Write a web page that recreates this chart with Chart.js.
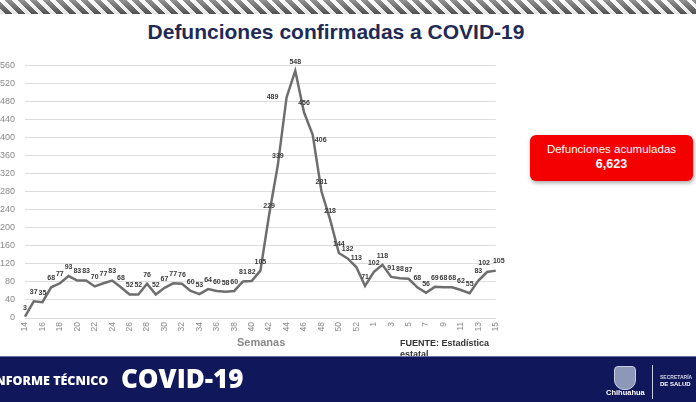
<!DOCTYPE html>
<html>
<head>
<meta charset="utf-8">
<script src="https://cdn.jsdelivr.net/npm/chart.js@4.4.0/dist/chart.umd.min.js"></script>
<style>
    body { margin: 0; width: 696px; height: 402px; overflow: hidden; background: #fff; position: relative; font-family: "Liberation Sans", Arial, sans-serif; }
    .stripes { position: absolute; left: 0; top: 0; width: 696px; height: 14px;
        background: repeating-linear-gradient(45deg, #fff 0px, #fff 4px, #5a5a5a 4px, #5a5a5a 9px); }
    .stripes:after { content: ""; position: absolute; left: 0; top: 0; right: 0; bottom: 0;
        background: linear-gradient(to bottom, rgba(255,255,255,0.35), rgba(0,0,0,0.1)); }
    .title { position: absolute; left: 0; width: 672px; top: 20px; text-align: center; font-size: 21px; font-weight: bold; color: #1f2a55; }
    .chart-box { position: absolute; left: -10px; top: 50px; width: 520px; height: 298px; }
    .total { position: absolute; left: 530px; top: 135px; width: 163px; height: 46px; background: #f50000; border-radius: 6px;
        box-shadow: 1px 2px 4px rgba(0,0,0,0.35); color: #fff; text-align: center; }
    .total .t1 { font-size: 11.5px; margin-top: 8px; }
    .total .t2 { font-size: 12.5px; font-weight: bold; margin-top: 2px; }
    .xlabel { position: absolute; left: 237px; top: 336px; font-size: 11px; font-weight: bold; color: #888; }
    .fuente { position: absolute; left: 400px; top: 338px; width: 120px; font-size: 9px; font-weight: bold; color: #333; line-height: 11px; }
    .banner { position: absolute; left: 0; top: 356px; width: 696px; height: 46px; background: #10175a; border-top: 1px solid #6a72a8; }
    .banner .inf { position: absolute; left: -9px; top: 15px; color: #fff; font-family: "Open Sans", sans-serif; font-weight: 800; font-size: 12.5px; }
    .banner .cov { position: absolute; left: 121px; top: 3px; color: #fff; font-family: "Open Sans", sans-serif; font-weight: 800; font-size: 26px; }
    .logo { position: absolute; left: 614px; top: 9px; width: 20px; height: 22px; border-radius: 4px 4px 10px 10px; background: #8d97b8; border: 1px solid #c8cde0; }
    .chih { position: absolute; left: 606px; top: 31px; color: #fff; font-size: 7.5px; font-weight: bold; }
    .sep { position: absolute; left: 652px; top: 8px; width: 1px; height: 34px; background: #c8cde0; }
    .sec { position: absolute; left: 660px; top: 17px; color: #cfd3e6; font-size: 5px; font-weight: bold; line-height: 7px; }
    .sec b { color: #fff; font-size: 6px; }
</style>
</head>
<body>
<div class="stripes"></div>
<div class="title">Defunciones confirmadas a COVID-19</div>
<div class="chart-box"><canvas id="LineChart1"></canvas></div>
<div class="total"><div class="t1">Defunciones acumuladas</div><div class="t2">6,623</div></div>
<div class="xlabel">Semanas</div>
<div class="fuente">FUENTE: Estadística estatal</div>
<div class="banner">
    <div class="inf">INFORME TÉCNICO</div>
    <div class="cov">COVID-19</div>
    <div class="logo"></div>
    <div class="chih">Chihuahua</div>
    <div class="sep"></div>
    <div class="sec">SECRETARÍA<br><b>DE SALUD</b></div>
</div>
<script>
// weeks 14..53 of 2020 then 1..15 of 2021
const weekLabels = ['14','15','16','17','18','19','20','21','22','23','24','25','26','27','28','29','30','31','32','33',
    '34','35','36','37','38','39','40','41','42','43','44','45','46','47','48','49','50','51','52','53',
    '1','2','3','4','5','6','7','8','9','10','11','12','13','14','15'];
const deaths = [3,37,35,68,77,93,83,83,70,77,83,68,52,52,76,52,67,77,76,60,
    53,64,60,58,60,81,82,105,229,339,489,548,456,406,281,218,144,132,113,71,
    102,118,91,88,87,68,56,69,68,68,62,55,83,102,105];
const yMax = 560;
const yStep = 20;

// labels drawn above each point (a few put beside the line like the original)
const pointLabels = {
    id: 'pointLabels',
    afterDatasetsDraw(chart) {
        const ctx = chart.ctx;
        const meta = chart.getDatasetMeta(0);
        ctx.save();
        ctx.font = 'bold 7px "Liberation Sans", Arial, sans-serif';
        ctx.fillStyle = '#3a3a3a';
        ctx.textAlign = 'center';
        ctx.textBaseline = 'middle';
        meta.data.forEach((pt, i) => {
            let x = pt.x, y = pt.y - 9;
            if (i === 30) { x = pt.x - 14; y = pt.y; }
            if (i === 33) { x = pt.x + 8; y = pt.y + 5; }
            if (i === 53) { x = pt.x - 3; }
            if (i === 54) { x = pt.x + 3; y = pt.y - 10; }
            ctx.fillText(deaths[i], x, y);
        });
        ctx.restore();
    }
};

const ctx1 = document.getElementById('LineChart1');
const LineChart1 = new Chart(ctx1, {
    type: 'line',
    data: {
        labels: weekLabels,
        datasets: [{
            data: deaths,
            borderColor: '#6e6e6e',
            borderWidth: 2.5,
            pointRadius: 0,
            tension: 0,
            fill: false
        }]
    },
    options: {
        responsive: true,
        maintainAspectRatio: false,
        animation: false,
        layout: { padding: { top: 13, right: 14, left: 0, bottom: 0 } },
        plugins: {
            legend: { display: false },
            tooltip: { enabled: false }
        },
        scales: {
            x: {
                offset: false,
                grid: { display: false, drawTicks: false },
                border: { color: '#d9d9d9' },
                ticks: {
                    autoSkip: false,
                    maxRotation: 90,
                    minRotation: 90,
                    padding: 4,
                    color: '#8a8a8a',
                    font: { size: 8.5, family: '"Liberation Sans", Arial, sans-serif' },
                    callback: (v, i) => (i % 2 === 0 ? weekLabels[i] : '')
                },
                afterFit: scale => { scale.height = 30; }
            },
            y: {
                min: 0,
                max: yMax,
                grid: { color: '#dedede', drawTicks: false },
                border: { display: false },
                ticks: {
                    stepSize: yStep,
                    padding: 10,
                    color: '#8a8a8a',
                    font: { size: 9, family: '"Liberation Sans", Arial, sans-serif' }
                },
                afterFit: scale => { scale.width = 35; }
            }
        }
    },
    plugins: [pointLabels]
});
</script>
</body>
</html>
